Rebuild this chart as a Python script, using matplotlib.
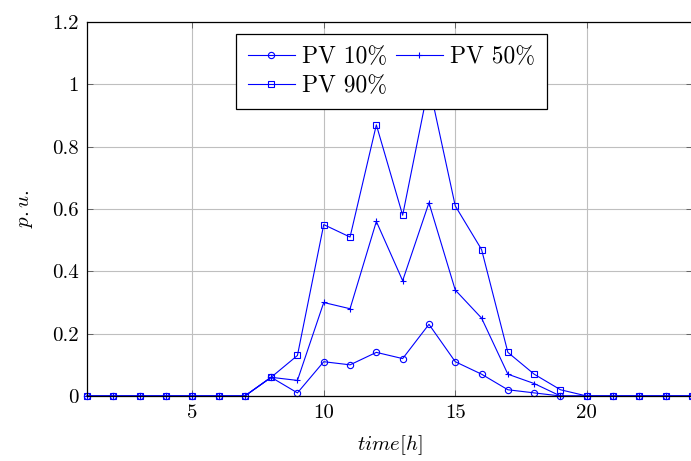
import matplotlib
matplotlib.use("Agg")
import matplotlib.pyplot as plt

hours = list(range(1, 25))
pv10 = [0, 0, 0, 0, 0, 0, 0, 0.06, 0.01, 0.11, 0.10, 0.14, 0.12, 0.23, 0.11, 0.07, 0.02, 0.01, 0, 0, 0, 0, 0, 0]
pv50 = [0, 0, 0, 0, 0, 0, 0, 0.06, 0.05, 0.30, 0.28, 0.56, 0.37, 0.62, 0.34, 0.25, 0.07, 0.04, 0, 0, 0, 0, 0, 0]
pv90 = [0, 0, 0, 0, 0, 0, 0, 0.06, 0.13, 0.55, 0.51, 0.87, 0.58, 1.00, 0.61, 0.47, 0.14, 0.07, 0.02, 0, 0, 0, 0, 0]
labels = [r'PV 10%', r'PV 50%', r'PV 90%']
xticks = [5, 10, 15, 20]
yticks = [0, 0.2, 0.4, 0.6, 0.8, 1.0, 1.2]
yticklabels = ['0', '0.2', '0.4', '0.6', '0.8', '1', '1.2']

plt.rcParams['font.family'] = 'serif'
plt.rcParams['font.serif'] = ['cmr10', 'DejaVu Serif']
plt.rcParams['mathtext.fontset'] = 'cm'
plt.rcParams['axes.unicode_minus'] = False

fig = plt.figure(figsize=(6.91, 4.61), dpi=100)
ax = fig.add_axes([87/691, 1-396/461, 605/691, 374/461])

c = (0, 0, 1)
h1, = ax.plot(hours, pv10, color=c, lw=0.8, marker='o', ms=4.5, mfc='none', mec=c, mew=0.8, label=labels[0], clip_on=False)
h2, = ax.plot(hours, pv50, color=c, lw=0.8, marker='+', ms=5, mec=c, mew=0.8, label=labels[1], clip_on=False)
h3, = ax.plot(hours, pv90, color=c, lw=0.8, marker='s', ms=4.5, mfc='none', mec=c, mew=0.8, label=labels[2], clip_on=False)

ax.set_xlim(1, 24)
ax.set_ylim(0, 1.2)
ax.set_xticks(xticks)
ax.set_xticklabels([str(t) for t in xticks])
ax.set_yticks(yticks)
ax.set_yticklabels(yticklabels)
ax.tick_params(direction='in', labelsize=15, length=4, width=0.6, top=True, right=True, color='#555555', pad=6)
ax.grid(True, color='#bfbfbf', lw=0.8)
ax.set_axisbelow(True)
for s in ax.spines.values():
    s.set_linewidth(0.9)
    s.set_color('black')

ax.set_xlabel(r'$time[h]$', fontsize=15, labelpad=8)
ax.set_ylabel(r'$p.u.$', fontsize=15, labelpad=12)

leg = ax.legend([h1, h3, h2], [labels[0], labels[2], labels[1]],
                loc='upper center', bbox_to_anchor=(0.503, 0.968), ncol=2, fontsize=17,
                frameon=True, fancybox=False, edgecolor='black', framealpha=1,
                handlelength=2.0, columnspacing=0.35, handletextpad=0.3, borderpad=0.5,
                labelspacing=0.3, borderaxespad=0)
leg.set_zorder(10)
leg.get_frame().set_linewidth(0.9)

fig.savefig('out.png', dpi=100)
